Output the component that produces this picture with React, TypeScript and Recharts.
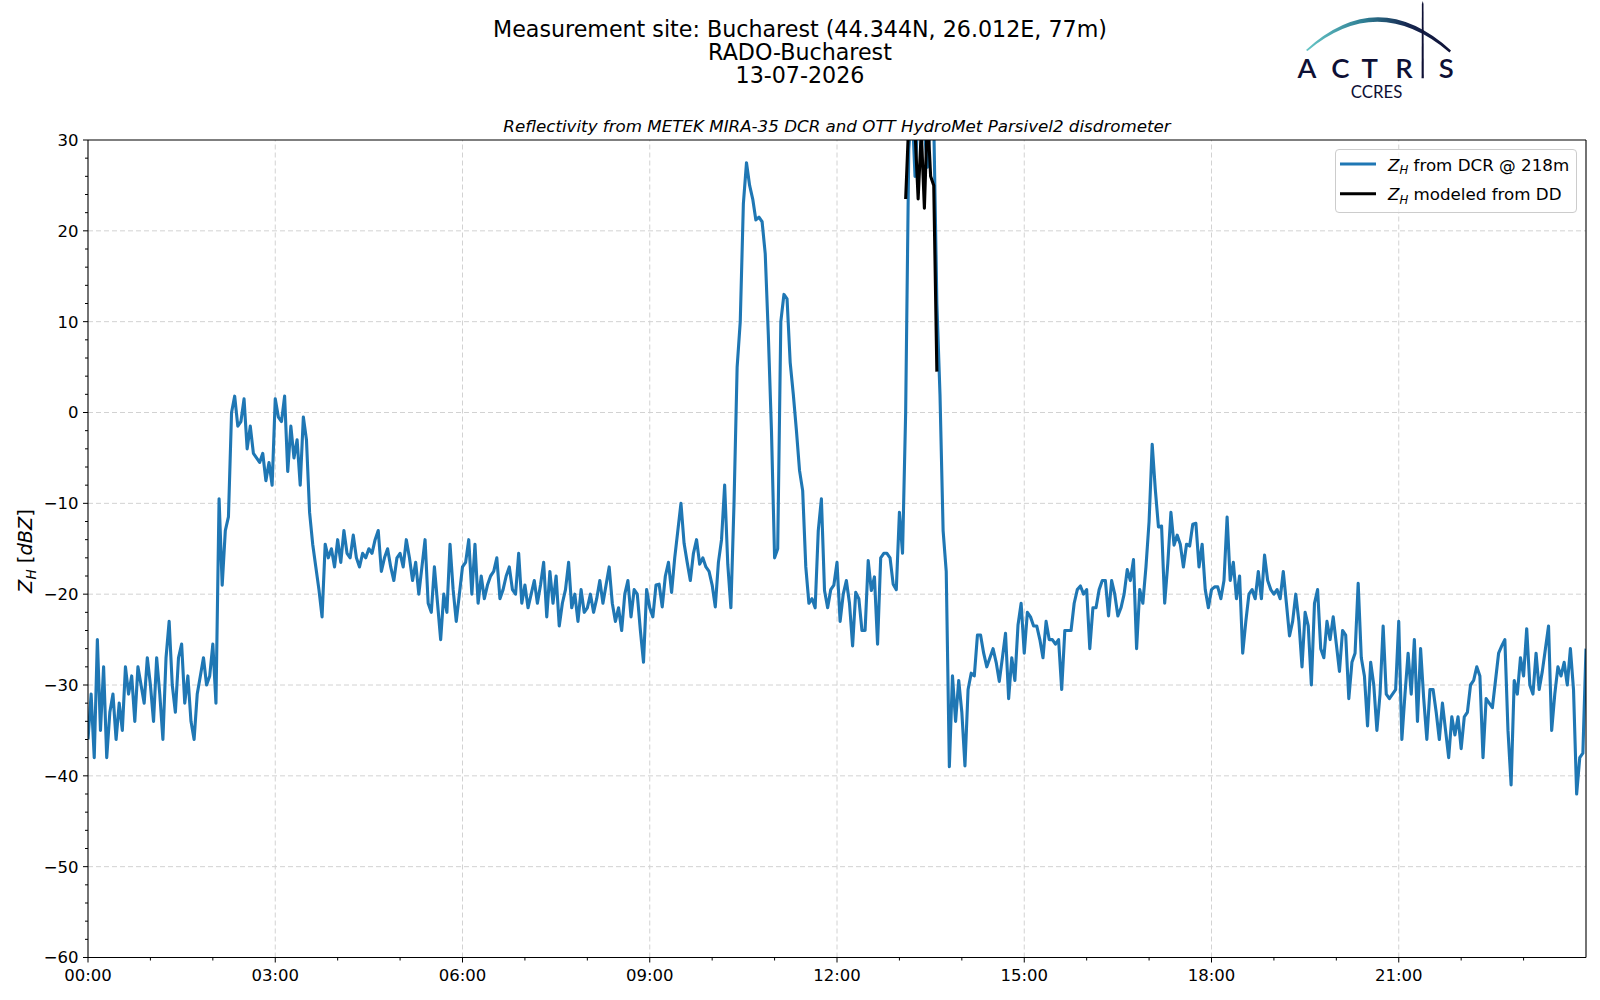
import React from 'react';
import { LineChart, Line, XAxis, YAxis, ReferenceLine } from 'recharts';

// 3-minute sampling of the DCR reflectivity at 218 m (hours 00..23, 20 samples each, + 24:00)
const SAMPLE_STEP_H = 0.05;
const dcrZ: number[] = [
  // 00h
  -36, -31, -38, -25, -35, -28, -38, -33, -31, -36, -32, -35, -28, -31, -29, -34, -28, -30, -32, -27,
  // 01h
  -30, -34, -27, -31, -36, -27, -23, -30, -33, -27, -25.5, -32, -29, -34, -36, -31, -29, -27, -30, -29,
  // 02h
  -25.5, -32, -9.5, -19, -13, -11.5, 0, 1.8, -1.5, -1, 1.5, -4, -1.5, -4.5, -5, -5.5, -4.5, -7.5, -5.5, -8,
  // 03h
  1.5, -0.5, -1, 1.8, -6.5, -1.5, -5, -3, -8, -0.5, -3, -11, -14.5, -17, -19.5, -22.5, -14.5, -16, -15, -17,
  // 04h
  -14, -16.5, -13, -15.5, -16, -13.5, -16, -17, -15.5, -16, -15, -15.5, -14, -13, -17.5, -16, -15, -17, -18.5, -16,
  // 05h
  -15.5, -17, -14, -16, -18.5, -16.5, -20, -17, -14, -21, -22, -17, -21, -25, -20, -22, -14.5, -19.5, -23, -20,
  // 06h
  -17, -16.5, -14, -20, -14.5, -21, -18, -20.5, -19, -18, -17.5, -16, -20.5, -19.5, -18, -17, -19.5, -20, -15.5, -21,
  // 07h
  -19, -21.5, -20, -18.5, -21, -19, -16.5, -22.5, -17.5, -21, -18, -23.5, -21, -19.5, -16.5, -21.5, -20, -23, -19.5, -22,
  // 08h
  -21.5, -20, -22, -20.5, -18.5, -21, -19, -17, -21, -23, -21.5, -24, -20, -18.5, -22.5, -19.5, -20, -24, -27.5, -19.5,
  // 09h
  -21.5, -22.5, -19, -18.9, -21.4, -18, -16.5, -19.8, -16, -13, -10, -14.4, -16.5, -18.5, -15.5, -14, -16.7, -16, -17, -17.5,
  // 10h
  -19, -21.4, -16.5, -14, -8, -16.7, -21.5, -10, 5, 10, 23, 27.5, 25, 23.5, 21.2, 21.5, 21, 17.5, 8.5, -2,
  // 11h
  -16, -15, 10, 13, 12.5, 5.5, 2, -2, -6.4, -8.6, -17, -21, -20.5, -21.5, -13, -9.5, -19.6, -21.5, -19.5, -19,
  // 12h
  -16.5, -23, -20, -18.5, -21, -25.7, -19.8, -20.5, -24, -24, -16.3, -19.6, -18.1, -25.5, -16, -15.5, -15.5, -16, -18.9, -19.5,
  // 13h
  -11, -15.5, 0, 29, 34, 26, 33, 34, 31, 27, 33, 32, 12, 2, -13, -17.5, -39, -29, -34, -29.5,
  // 14h
  -33, -38.9, -30.5, -28.7, -29, -24.5, -24.5, -26.5, -28, -27, -26, -27.5, -29.6, -27, -24.3, -31.5, -27, -29.5, -23.4, -21,
  // 15h
  -26.5, -22, -22.5, -23.5, -23.5, -25, -27, -23, -25, -25, -25.5, -25, -30.5, -24, -24, -24, -21, -19.5, -19.1, -20,
  // 16h
  -19.5, -26, -21.5, -21.5, -19.5, -18.5, -18.5, -22.4, -18.5, -20, -22.4, -21.5, -20, -17.3, -18.5, -16.2, -26, -19.5, -21, -17,
  // 17h
  -12, -3.5, -8.5, -12.6, -12.5, -21, -16.6, -11, -14.6, -13.5, -14.5, -17, -14.5, -14.7, -12.3, -12.2, -17, -14.5, -19.5, -21.5,
  // 18h
  -19.5, -19.2, -19.2, -20.5, -18.5, -11.5, -18.5, -16.5, -20.5, -18, -26.5, -23, -20, -19.5, -20.5, -17.5, -20.5, -15.7, -18.5, -19.5,
  // 19h
  -20, -19.5, -20.5, -17.5, -21, -24.6, -23, -20, -23, -28, -22, -23.5, -30, -21, -19.5, -26, -27, -23, -25, -22.5,
  // 20h
  -25.5, -28.5, -24, -24.5, -31.5, -27.5, -26.5, -18.8, -27, -29, -34.5, -27.5, -30, -35, -31, -23.5, -31, -31.5, -31, -30.5,
  // 21h
  -23, -36, -31, -26.5, -31, -25, -34, -26, -31.5, -36, -30.5, -30.5, -33, -36, -32, -35, -38, -33.5, -35.5, -33.5,
  // 22h
  -37, -33.5, -33, -30, -29.5, -28, -29, -38, -31.5, -32, -32.5, -29.5, -26.5, -25.7, -25, -35, -41, -29.5, -31, -27,
  // 23h
  -29, -23.8, -30, -31, -26.5, -30.5, -28.5, -26, -23.5, -35, -31, -28, -29, -27.5, -30, -26, -30.5, -42, -38, -37.5,
  // 24:00
  -26,
];

// Reflectivity modeled from the disdrometer (only during the rain event), 3-minute samples from 13:06
const ddStartH = 13.1;
const ddZ: number[] = [23.5, 32, 34, 31, 23.5, 31, 22.5, 33, 26, 25, 4.5];

const xMajorHours = [0, 3, 6, 9, 12, 15, 18, 21];
const xMajorLabels = ['00:00', '03:00', '06:00', '09:00', '12:00', '15:00', '18:00', '21:00'];
const xMinorHours = [1, 2, 4, 5, 7, 8, 10, 11, 13, 14, 16, 17, 19, 20, 22, 23];
const yMajor = [-60, -50, -40, -30, -20, -10, 0, 10, 20, 30];
const yMinor = [-58, -56, -54, -52, -48, -46, -44, -42, -38, -36, -34, -32, -28, -26, -24, -22, -18, -16, -14, -12,
  -8, -6, -4, -2, 2, 4, 6, 8, 12, 14, 16, 18, 22, 24, 26, 28];

const legendLabels = ['from DCR @ 218m', 'modeled from DD'];
const titleLines = ['Measurement site: Bucharest (44.344N, 26.012E, 77m)', 'RADO-Bucharest', '13-07-2026'];
const subtitle = 'Reflectivity from METEK MIRA-35 DCR and OTT HydroMet Parsivel2 disdrometer';

const BLUE = '#1f77b4';
const FONT = '"DejaVu Sans", sans-serif';
const NAVY = '#0e1035';
const LINE_W = 3.1;

const rows: { t: number; dcr: number; dd: number | null }[] = dcrZ.map((z, i) => ({
  t: Math.round(i * SAMPLE_STEP_H * 100) / 100,
  dcr: z,
  dd: null,
}));
const ddStartIndex = Math.round(ddStartH / SAMPLE_STEP_H);
ddZ.forEach((v, j) => {
  rows[ddStartIndex + j].dd = v;
});

const xTicksAll = [...xMajorHours, ...xMinorHours].sort((a, b) => a - b);
const yTicksAll = [...yMajor, ...yMinor].sort((a, b) => a - b);

const fmtMinus = (v: number) => String(v).replace('-', '\u2212');

const XTick = (props: any) => {
  const { x, y, payload } = props;
  const idx = xMajorHours.indexOf(payload.value);
  const major = idx >= 0;
  return (
    <g>
      <line x1={x} x2={x} y1={y} y2={y + (major ? 5 : 3)} stroke="#000" strokeWidth={1} />
      {major && (
        <text x={x} y={y + 11.5} dy="0.71em" textAnchor="middle" fontFamily={FONT} fontSize={16.5} fill="#000">
          {xMajorLabels[idx]}
        </text>
      )}
    </g>
  );
};

const YTick = (props: any) => {
  const { x, y, payload } = props;
  const major = yMajor.includes(payload.value);
  return (
    <g>
      <line x1={x} x2={x - (major ? 5 : 3)} y1={y} y2={y} stroke="#000" strokeWidth={1} />
      {major && (
        <text x={x - 9.5} y={y} dy="0.36em" textAnchor="end" fontFamily={FONT} fontSize={16.5} fill="#000">
          {fmtMinus(payload.value)}
        </text>
      )}
    </g>
  );
};

const gridStroke = '#d2d2d2';

const Overlay = () => (
  <svg
    width={1600}
    height={1000}
    style={{ position: 'absolute', left: 0, top: 0, pointerEvents: 'none' }}
  >
    <defs>
      <linearGradient id="arcGrad" x1="1306" y1="0" x2="1452" y2="0" gradientUnits="userSpaceOnUse">
        <stop offset="0" stopColor="#66c6c6" />
        <stop offset="0.4" stopColor="#2e7d93" />
        <stop offset="0.7" stopColor="#16264f" />
        <stop offset="1" stopColor={NAVY} />
      </linearGradient>
    </defs>
    {/* titles */}
    {titleLines.map((t, i) => (
      <text key={i} x={800} y={36.5 + i * 23} textAnchor="middle" fontFamily={FONT} fontSize={22.2} fill="#000">
        {t}
      </text>
    ))}
    <text x={837} y={132} textAnchor="middle" fontFamily={FONT} fontSize={16.7} fontStyle="italic" fill="#000">
      {subtitle}
    </text>

    {/* ACTRIS logo */}
    <path
      d="M 1306 50 Q 1378 -15.5 1451 50.5 L 1449.5 52.5 Q 1378 -8 1307.5 51 Z"
      fill="url(#arcGrad)"
    />
    <path d="M 1421.6 78.3 L 1421.9 4 L 1422.7 1 L 1423.5 4 L 1423.8 78.3 Z" fill={NAVY} />
    {[
      ['A', 1307],
      ['C', 1340.5],
      ['T', 1369.8],
      ['R', 1404],
      ['S', 1446.2],
    ].map(([ch, cx]) => (
      <text
        key={ch as string}
        x={cx as number}
        y={78.3}
        textAnchor="middle"
        fontFamily="Lato, sans-serif"
        fontWeight={600}
        fontSize={27.5}
        fill={NAVY}
      >
        {ch}
      </text>
    ))}
    <text x={1376.5} y={98.3} textAnchor="middle" fontFamily="Lato, sans-serif" fontSize={16.8} fill={NAVY}>
      CCRES
    </text>

    {/* y label */}
    <text
      transform="translate(31.5,551) rotate(-90)"
      textAnchor="middle"
      fontFamily={FONT}
      fontSize={19.4}
      fill="#000"
      style={{ whiteSpace: 'pre' }}
    >
      <tspan fontStyle="italic">Z</tspan>
      <tspan fontStyle="italic" fontSize={13.6} dy={4}>H</tspan>
      <tspan dy={-4}> [</tspan>
      <tspan fontStyle="italic">dBZ</tspan>
      <tspan>]</tspan>
    </text>

    {/* legend */}
    <rect x={1335.5} y={149.5} width={241} height={63} rx={3.5} fill="#fff" fillOpacity={0.8} stroke="#cccccc" strokeWidth={1} />
    {legendLabels.map((lab, i) => (
      <g key={i}>
        <line
          x1={1340}
          x2={1376}
          y1={164 + i * 29.8}
          y2={164 + i * 29.8}
          stroke={i === 0 ? BLUE : '#000'}
          strokeWidth={LINE_W}
        />
        <text x={1388} y={170.5 + i * 29.8} fontFamily={FONT} fontSize={16.7} fill="#000" style={{ whiteSpace: 'pre' }}>
          <tspan fontStyle="italic">Z</tspan>
          <tspan fontStyle="italic" fontSize={11.7} dy={3.5}>H</tspan>
          <tspan dy={-3.5}>{' ' + lab}</tspan>
        </text>
      </g>
    ))}
  </svg>
);

export default function App() {
  return (
    <div style={{ position: 'absolute', left: 0, top: 0, width: 1600, height: 1000, background: '#fff' }}>
      <LineChart
        width={1600}
        height={1000}
        data={rows}
        margin={{ top: 140, right: 14, bottom: 12.5, left: 28 }}
      >
        {xMajorHours.slice(1).map((h) => (
          <ReferenceLine key={'gx' + h} x={h} stroke={gridStroke} strokeDasharray="5 3" strokeWidth={1} />
        ))}
        {yMajor.slice(1, -1).map((v) => (
          <ReferenceLine key={'gy' + v} y={v} stroke={gridStroke} strokeDasharray="5 3" strokeWidth={1} />
        ))}
        <XAxis
          dataKey="t"
          type="number"
          domain={[0, 24]}
          ticks={xTicksAll}
          interval={0}
          minTickGap={0}
          tickSize={0}
          tickMargin={0}
          tickLine={false}
          tick={XTick}
          axisLine={{ stroke: '#000', strokeWidth: 1.1 }}
          allowDataOverflow
          height={30}
        />
        <YAxis
          type="number"
          domain={[-60, 30]}
          ticks={yTicksAll}
          interval={0}
          minTickGap={0}
          tickSize={0}
          tickMargin={0}
          tickLine={false}
          tick={YTick}
          axisLine={{ stroke: '#000', strokeWidth: 1.1 }}
          allowDataOverflow
          width={60}
        />
        <Line
          type="linear"
          dataKey="dcr"
          stroke={BLUE}
          strokeWidth={LINE_W}
          dot={false}
          isAnimationActive={false}
          strokeLinejoin="round"
        />
        <Line
          type="linear"
          dataKey="dd"
          stroke="#000"
          strokeWidth={LINE_W}
          dot={false}
          connectNulls={false}
          isAnimationActive={false}
          strokeLinejoin="round"
        />
        <ReferenceLine y={30} stroke="#000" strokeWidth={1.1} />
        <ReferenceLine x={24} stroke="#000" strokeWidth={1.1} />
      </LineChart>
      <Overlay />
    </div>
  );
}
